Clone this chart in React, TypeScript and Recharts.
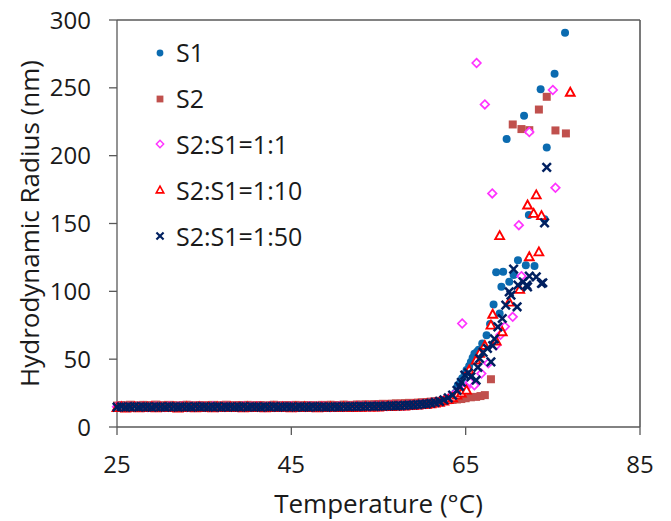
import { ScatterChart, Scatter, XAxis, YAxis, ReferenceLine, Label } from 'recharts';

// Temperature ramp shared by all samples in the flat (unaggregated) region, °C
const flatTemps = [
  25, 25.5, 26, 26.5, 27, 27.5, 28, 28.5, 29, 29.5,
  30, 30.5, 31, 31.5, 32, 32.5, 33, 33.5, 34, 34.5,
  35, 35.5, 36, 36.5, 37, 37.5, 38, 38.5, 39, 39.5,
  40, 40.5, 41, 41.5, 42, 42.5, 43, 43.5, 44, 44.5,
  45, 45.5, 46, 46.5, 47, 47.5, 48, 48.5, 49, 49.5,
  50, 50.5, 51, 51.5, 52, 52.5, 53, 53.5, 54, 54.5,
  55, 55.5, 56, 56.5, 57, 57.5, 58, 58.5, 59, 59.5,
  60,
];

// Hydrodynamic radius (nm) on the flat ramp
const s1Flat = [
  14.6, 14.4, 14.8, 14.5, 14.3, 14.7, 14.5, 14.6, 14.2, 14.5,
  14.7, 14.4, 14.6, 14.3, 14.5, 14.8, 14.4, 14.6, 14.5, 14.3,
  14.6, 14.7, 14.4, 14.5, 14.6, 14.2, 14.5, 14.7, 14.4, 14.6,
  14.5, 14.3, 14.6, 14.8, 14.5, 14.4, 14.6, 14.5, 14.7, 14.3,
  14.5, 14.6, 14.4, 14.7, 14.5, 14.6, 14.3, 14.5, 14.8, 14.6,
  14.4, 14.5, 14.7, 14.6, 14.5, 14.8, 14.6, 14.9, 14.7, 15.0,
  14.8, 15.1, 15.0, 15.2, 15.3, 15.1, 15.4, 15.5, 15.6, 15.8,
  16.0,
];
const s2Flat = [
  15.8, 16.2, 15.9, 16.4, 16.0, 15.7, 16.3, 16.1, 15.8, 16.5,
  16.0, 15.9, 16.3, 16.1, 15.7, 16.2, 16.4, 15.9, 16.0, 16.2,
  15.8, 16.1, 16.3, 16.0, 15.9, 16.4, 16.1, 15.8, 16.2, 16.0,
  16.3, 15.9, 16.1, 16.2, 15.8, 16.0, 16.4, 16.1, 15.9, 16.2,
  16.0, 16.3, 15.8, 16.1, 16.2, 16.0, 15.9, 16.3, 16.1, 16.4,
  16.2, 16.0, 16.5, 16.3, 16.1, 16.6, 16.4, 16.7, 16.5, 16.8,
  16.9, 17.1, 16.8, 17.2, 17.4, 17.3, 17.6, 17.8, 17.7, 18.0,
  18.2,
];
const mix1Flat = [
  14.9, 15.1, 14.8, 15.0, 15.2, 14.9, 15.0, 14.7, 15.1, 14.9,
  15.0, 14.8, 15.2, 14.9, 15.0, 15.1, 14.8, 15.0, 14.9, 15.2,
  14.9, 15.0, 15.1, 14.8, 15.0, 14.9, 15.2, 15.0, 14.8, 15.1,
  15.0, 14.9, 15.1, 15.0, 14.8, 15.2, 14.9, 15.0, 15.1, 14.9,
  15.1, 14.8, 15.0, 14.9, 15.2, 15.0, 14.9, 15.1, 15.0, 14.8,
  15.0, 15.2, 14.9, 15.1, 15.0, 15.3, 15.1, 15.4, 15.2, 15.5,
  15.4, 15.6, 15.5, 15.8, 15.7, 16.0, 15.9, 16.2, 16.4, 16.6,
  16.9,
];
const mix10Flat = [
  14.2, 14.6, 13.9, 14.4, 14.7, 14.1, 14.5, 14.3, 14.8, 14.0,
  14.4, 14.6, 14.2, 14.5, 13.9, 14.3, 14.7, 14.4, 14.1, 14.6,
  14.3, 14.5, 14.0, 14.6, 14.4, 14.2, 14.7, 14.3, 14.5, 14.1,
  14.6, 14.2, 14.4, 14.5, 14.0, 14.3, 14.6, 14.2, 14.5, 14.4,
  14.1, 14.5, 14.3, 14.6, 14.2, 14.4, 14.0, 14.5, 14.3, 14.6,
  14.4, 14.2, 14.6, 14.5, 14.3, 14.7, 14.5, 14.8, 14.6, 14.9,
  14.7, 15.0, 15.2, 15.0, 15.3, 15.5, 15.4, 15.7, 15.9, 16.1,
  16.4,
];
const mix50Flat = [
  14.7, 14.9, 14.6, 14.8, 15.0, 14.7, 14.9, 14.8, 14.6, 14.9,
  14.8, 14.7, 15.0, 14.8, 14.6, 14.9, 14.8, 14.7, 15.0, 14.8,
  14.9, 14.7, 14.8, 15.0, 14.6, 14.8, 14.9, 14.7, 14.8, 15.0,
  14.7, 14.9, 14.8, 14.6, 14.9, 14.8, 15.0, 14.7, 14.8, 14.9,
  14.8, 14.6, 14.9, 14.8, 14.7, 15.0, 14.8, 14.9, 14.7, 14.8,
  14.9, 14.8, 15.0, 14.9, 15.1, 15.0, 15.2, 15.1, 15.3, 15.2,
  15.4, 15.3, 15.5, 15.7, 15.6, 15.8, 16.0, 16.1, 16.3, 16.5,
  16.8,
];

// [temperature, radius] through the aggregation transition
const s1Rise = [
  [60.5, 16.3], [61, 16.8], [61.5, 17.4], [62, 18.2], [62.5, 19.1], [63, 20.3], [63.5, 21.8],
  [63.8, 25], [64.1, 30.8], [64.4, 33], [64.6, 36], [64.9, 39], [65.1, 42], [65.4, 45],
  [65.6, 48], [65.8, 51], [66, 54], [66.3, 55.5], [66.5, 57], [66.9, 61.6],
  [67.4, 67.7], [67.8, 76], [68.2, 90.3], [68.5, 114], [68.9, 83.7], [69.1, 103.3],
  [69.3, 114.4], [69.7, 212.2], [70, 107], [70.5, 112], [71, 123], [71.7, 229.4],
  [71.9, 119.3], [72.25, 156.2], [72.9, 118.6], [73.6, 248.9], [74.05, 153.2],
  [74.3, 206], [75.2, 260.4], [76.4, 290.6],
];
const s2Rise = [
  [60.5, 18.4], [61, 18.7], [61.5, 19], [62, 19.3], [62.5, 19.5], [63, 19.8], [63.5, 20],
  [64, 20.3], [64.5, 20.6], [65, 21.2], [65.6, 21.9], [66.2, 22.2], [66.7, 22.8],
  [67.2, 23.5], [67.9, 35.2], [70.4, 223], [71.4, 219.6], [72.3, 218.8], [73.4, 234],
  [74.3, 243.4], [75.3, 218.6], [76.5, 216.4],
];
const mix1Rise = [
  [60.5, 17.2], [61, 17.6], [61.5, 18.1], [62, 18.7], [62.5, 19.6], [63, 21], [63.5, 23],
  [64, 25.5], [64.6, 76.3], [65, 29], [65.5, 33], [66, 30.8], [66.25, 268.3], [66.8, 39.4],
  [67.2, 237.8], [67.6, 47], [68.05, 172.2], [68.5, 60.3], [69, 68], [69.5, 74],
  [70.4, 81.2], [71.1, 148.8], [71.4, 111.2], [72.3, 217.4], [75, 248.4], [75.3, 176.3],
];
const mix10Rise = [
  [60.5, 16.7], [61, 17.1], [61.5, 17.6], [62, 18.2], [62.5, 19], [63, 20.1], [63.5, 21.5],
  [64, 23.4], [64.5, 25], [65.1, 27.1], [65.4, 41.9], [66.2, 49.3], [66.6, 54.2],
  [67.2, 60], [67.9, 75], [68.1, 83], [68.5, 63.3], [68.9, 141], [69.2, 70.1], [70, 92],
  [71.2, 101.4], [72.1, 163.6], [72.3, 125.4], [72.8, 157.4], [73.1, 171], [73.4, 129],
  [73.7, 155.7], [77, 246.7],
];
const mix50Rise = [
  [60.5, 17], [61, 17.5], [61.5, 18.1], [62, 18.9], [62.5, 20], [63, 21.5], [63.5, 23.5],
  [64, 27], [64.3, 30], [64.5, 33], [64.9, 38.2], [65.3, 40], [65.6, 37], [66.2, 34.5],
  [66.4, 44], [66.6, 50.5], [67, 55], [67.5, 57.9], [67.9, 48], [68.1, 60], [68.3, 65],
  [68.7, 73.8], [69.2, 80], [69.6, 89.8], [70, 99.6],
  [70.2, 97.2], [70.5, 116.4], [70.9, 88.6], [71, 104.6], [71.6, 107], [72, 104.6],
  [72.1, 103.3], [72.3, 111.2], [73.1, 110.7], [73.7, 105.8], [73.85, 106.3],
  [74.05, 150.5], [74.3, 191.4],
];

const xTicks = [25, 45, 65, 85];
const yTicks = [0, 50, 100, 150, 200, 250, 300];

const FONT = '"Open Sans", sans-serif';
const AXIS_COLOR = '#595959';
const TEXT_COLOR = '#1a1a1a';

type MarkerKind = 'circle' | 'square' | 'diamond' | 'triangle' | 'cross';

function Marker({ kind, cx, cy }: { kind: MarkerKind; cx: number; cy: number }) {
  if (cx == null || cy == null || isNaN(cx) || isNaN(cy)) return null;
  switch (kind) {
    case 'circle':
      return <circle cx={cx} cy={cy} r={4} fill="#0B6BB0" />;
    case 'square':
      return <rect x={cx - 4} y={cy - 4} width={8} height={8} fill="#C0504D" />;
    case 'diamond':
      return (
        <polygon
          points={`${cx},${cy - 4.3} ${cx + 4.3},${cy} ${cx},${cy + 4.3} ${cx - 4.3},${cy}`}
          fill="#fff"
          stroke="#FF33FF"
          strokeWidth={1.7}
        />
      );
    case 'triangle':
      return (
        <polygon
          points={`${cx},${cy - 4.6} ${cx + 4.4},${cy + 3.4} ${cx - 4.4},${cy + 3.4}`}
          fill="#fff"
          stroke="#FF0000"
          strokeWidth={1.9}
        />
      );
    default:
      return (
        <g stroke="#002060" strokeWidth={2.5}>
          <line x1={cx - 4.2} y1={cy - 4.2} x2={cx + 4.2} y2={cy + 4.2} />
          <line x1={cx - 4.2} y1={cy + 4.2} x2={cx + 4.2} y2={cy - 4.2} />
        </g>
      );
  }
}

const toPoints = (flat: number[], rise: number[][]) => [
  ...flatTemps.map((t, i) => ({ t, r: flat[i] })),
  ...rise.map(([t, r]) => ({ t, r })),
];

const series: { name: string; kind: MarkerKind; data: { t: number; r: number }[] }[] = [
  { name: 'S1', kind: 'circle', data: toPoints(s1Flat, s1Rise) },
  { name: 'S2', kind: 'square', data: toPoints(s2Flat, s2Rise) },
  { name: 'S2:S1=1:1', kind: 'diamond', data: toPoints(mix1Flat, mix1Rise) },
  { name: 'S2:S1=1:10', kind: 'triangle', data: toPoints(mix10Flat, mix10Rise) },
  { name: 'S2:S1=1:50', kind: 'cross', data: toPoints(mix50Flat, mix50Rise) },
];

function LegendIcon({ kind }: { kind: MarkerKind }) {
  // legend markers are a touch smaller than the plotted ones
  return (
    <svg width={20} height={20} style={{ overflow: 'visible' }}>
      <g transform="translate(10 10) scale(0.85) translate(-10 -10)">
        <Marker kind={kind} cx={10} cy={10} />
      </g>
    </svg>
  );
}

function ChartLegend() {
  return (
    <div style={{ position: 'absolute', left: 150, top: 30, fontFamily: FONT }}>
      {series.map((s) => (
        <div key={s.name} style={{ display: 'flex', alignItems: 'center', height: 45.8 }}>
          <LegendIcon kind={s.kind} />
          <span style={{ marginLeft: 6, fontSize: 25, color: TEXT_COLOR, lineHeight: 1 }}>{s.name}</span>
        </div>
      ))}
    </div>
  );
}

export default function App() {
  const tickStyle = { fontFamily: FONT, fontSize: 24, fill: TEXT_COLOR };
  return (
    <div style={{ position: 'relative', width: 671, height: 521, background: '#fff' }}>
      <style>{'body{margin:0}'}</style>
      <ScatterChart width={671} height={521} margin={{ top: 20, right: 31, bottom: 0, left: 0 }}>
        <XAxis
          type="number"
          dataKey="t"
          domain={[25, 85]}
          ticks={xTicks}
          height={94}
          tickSize={8}
          tickMargin={21}
          tick={tickStyle}
          axisLine={{ stroke: AXIS_COLOR, strokeWidth: 1.3 }}
          tickLine={{ stroke: AXIS_COLOR, strokeWidth: 1.3 }}
        >
          <Label
            value="Temperature (°C)"
            position="insideBottom"
            offset={8}
            style={{ fontFamily: FONT, fontSize: 26, fill: TEXT_COLOR }}
          />
        </XAxis>
        <YAxis
          type="number"
          dataKey="r"
          domain={[0, 300]}
          ticks={yTicks}
          width={117}
          tickSize={8}
          tickMargin={18}
          tick={tickStyle}
          axisLine={{ stroke: AXIS_COLOR, strokeWidth: 1.3 }}
          tickLine={{ stroke: AXIS_COLOR, strokeWidth: 1.3 }}
        >
          <Label
            value="Hydrodynamic Radius (nm)"
            angle={-90}
            position="insideLeft"
            offset={30}
            style={{ fontFamily: FONT, fontSize: 26, fill: TEXT_COLOR, textAnchor: 'middle' }}
          />
        </YAxis>
        <ReferenceLine y={300} stroke={AXIS_COLOR} strokeWidth={1.3} />
        <ReferenceLine x={85} stroke={AXIS_COLOR} strokeWidth={1.6} />
        {series.map((s) => (
          <Scatter
            key={s.name}
            name={s.name}
            data={s.data}
            isAnimationActive={false}
            shape={(p: any) => <Marker kind={s.kind} cx={p.cx} cy={p.cy} />}
          />
        ))}
      </ScatterChart>
      <ChartLegend />
    </div>
  );
}
